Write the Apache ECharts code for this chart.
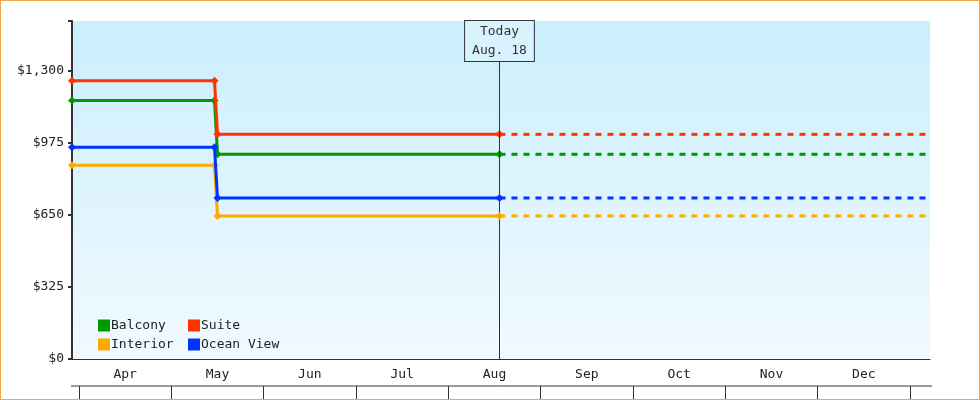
<!DOCTYPE html>
<html><head><meta charset="utf-8">
<script src="https://cdn.jsdelivr.net/npm/echarts@6/dist/echarts.min.js"></script>
<style>html,body{margin:0;padding:0;background:#fff}#c{width:980px;height:400px;box-sizing:border-box;border:1px solid #f0a848}</style>
</head><body><div id="c"></div>
<script>
const months = ['Apr','May','Jun','Jul','Aug','Sep','Oct','Nov','Dec'];
const yTicks = [0, 325, 650, 975, 1300];
const dates = ['2024-03-30','2024-05-16','2024-05-17','2024-08-18'];
const futureEnd = '2025-01-07';
const today = '2024-08-18';
const names = ['Balcony','Suite','Interior','Ocean View'];
const colors = ['#009900','#ff3300','#ffaa00','#0033ff'];
const balcony = [1166, 1166, 923, 923];
const suite = [1255, 1255, 1013, 1013];
const interior = [874, 874, 645, 645];
const oceanView = [955, 955, 726, 726];
const values = [balcony, suite, interior, oceanView];

const font = 'DejaVu Sans Mono';
const series = [];
values.forEach((v, i) => {
  series.push({
    name: names[i], type: 'line', xAxisIndex: 0, yAxisIndex: 0,
    data: dates.map((d, k) => [d, v[k]]),
    symbol: 'diamond', symbolSize: 8, showSymbol: true,
    lineStyle: {color: colors[i], width: 3}, itemStyle: {color: colors[i]},
    z: 3 + i
  });
  series.push({
    name: names[i], type: 'line', xAxisIndex: 0, yAxisIndex: 0,
    data: [[today, v[3]], [futureEnd, v[3]]],
    showSymbol: false, symbol: 'none',
    lineStyle: {color: colors[i], width: 3, type: [6, 6]}, itemStyle: {color: colors[i]}
  });
});
series.push({
  type: 'line', xAxisIndex: 0, yAxisIndex: 0, data: [], silent: true,
  markLine: {symbol: 'none', silent: true, label: {show: false},
    lineStyle: {color: '#333', width: 1, type: 'solid'}, data: [{xAxis: today}]},
  markPoint: {symbol: 'rect', symbolSize: 0, silent: true,
    data: [{coord: [today, 1524]}],
    label: {show: true, position: 'bottom', distance: 0, formatter: 'Today\nAug. 18',
      fontFamily: font, fontSize: 13, color: '#333', lineHeight: 19,
      backgroundColor: '#d8f3fd', borderColor: '#333', borderWidth: 1, padding: [1, 7]}}
});
series.push({type: 'bar', xAxisIndex: 1, yAxisIndex: 1, data: months.map(() => 0), silent: true});

const chart = echarts.init(document.getElementById('c'));
chart.setOption({
  animation: false,
  grid: [
    {left: 71, right: 49, top: 20, bottom: 40, show: true, borderWidth: 0,
     backgroundColor: new echarts.graphic.LinearGradient(0, 0, 0, 1, [{offset: 0, color: '#cbeefc'}, {offset: 1, color: '#f0faff'}])},
    {left: 78, right: 69, top: 360, height: 25}
  ],
  xAxis: [
    {type: 'time', gridIndex: 0, min: '2024-03-30', max: futureEnd,
     axisLabel: {show: false}, axisTick: {show: false}, splitLine: {show: false},
     axisLine: {show: true, lineStyle: {color: '#333', width: 1}}},
    {type: 'category', gridIndex: 1, data: months, position: 'top', boundaryGap: true,
     axisLine: {show: false},
     axisTick: {show: true, inside: true, length: 25, lineStyle: {color: '#333'}},
     axisLabel: {inside: true, margin: 7, fontFamily: font, fontSize: 13, color: '#222'}}
  ],
  yAxis: [
    {type: 'value', gridIndex: 0, min: 0, max: 1524, interval: 325,
     axisLine: {show: true, lineStyle: {color: '#333', width: 2}},
     axisTick: {show: true, length: 4, lineStyle: {color: '#333', width: 2}},
     splitLine: {show: false},
     axisLabel: {fontFamily: font, fontSize: 13, color: '#222', margin: 8,
       formatter: v => yTicks.includes(v) ? '$' + v.toLocaleString('en-US') : ''}},
    {type: 'value', gridIndex: 1, show: false}
  ],
  legend: [
    {data: names.filter((n, i) => i % 2 === 0), orient: 'vertical', left: 92, top: 313, itemGap: 6,
     itemWidth: 12, itemHeight: 12, icon: 'rect', textStyle: {fontFamily: font, fontSize: 13, color: '#222', padding: [0,0,0,-4]}},
    {data: names.filter((n, i) => i % 2 === 1), orient: 'vertical', left: 182, top: 313, itemGap: 6,
     itemWidth: 12, itemHeight: 12, icon: 'rect', textStyle: {fontFamily: font, fontSize: 13, color: '#222', padding: [0,0,0,-4]}}
  ],
  graphic: [{type: 'line', shape: {x1: 70, y1: 385, x2: 931, y2: 385}, style: {stroke: '#333', lineWidth: 1}}],
  series: series
});
</script></body></html>
